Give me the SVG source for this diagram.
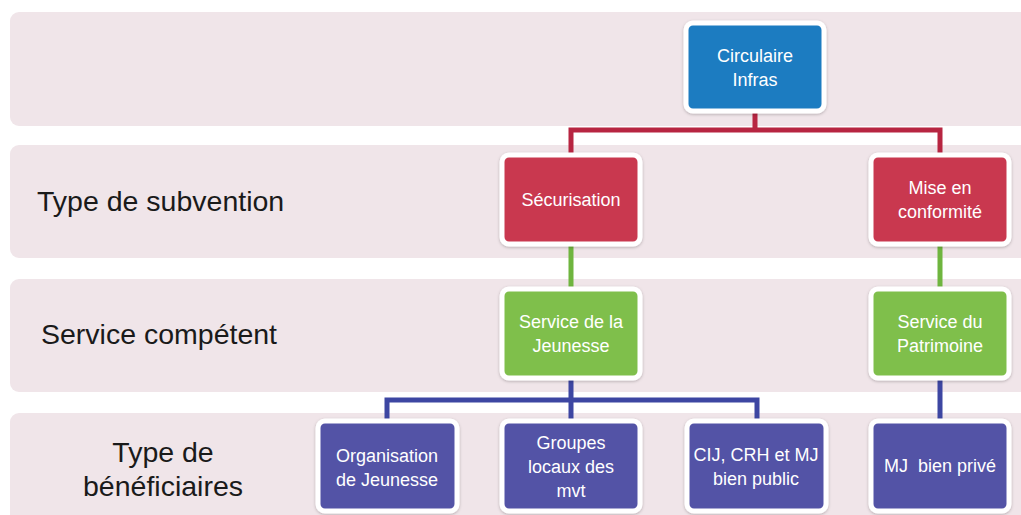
<svg xmlns="http://www.w3.org/2000/svg" width="1021" height="515" viewBox="0 0 1021 515">
<defs>
<filter id="sh" x="-20%" y="-20%" width="140%" height="140%">
<feDropShadow dx="0" dy="1" stdDeviation="1.5" flood-color="#000" flood-opacity="0.25"/>
</filter>
<style>
.band{fill:#f0e5e9;}
.node rect{stroke:#ffffff;stroke-width:5;filter:url(#sh);}
.blue rect{fill:#1b7bc1;}
.red rect{fill:#c9394f;}
.green rect{fill:#7fbf4b;}
.purple rect{fill:#5352a6;}
.nt{font-family:"Liberation Sans",Arial,sans-serif;font-size:18px;fill:#ffffff;text-anchor:middle;}
.lbl{font-family:"Liberation Sans",Arial,sans-serif;font-size:28.5px;fill:#1a1a1a;}
.c{fill:none;stroke-width:5;stroke-linejoin:miter;}
</style>
</defs>
<rect width="1021" height="515" fill="#ffffff"/>
<g id="bands">
<rect class="band" x="10" y="12" width="1030" height="114" rx="9"/>
<rect class="band" x="10" y="145" width="1030" height="113" rx="9"/>
<rect class="band" x="10" y="279" width="1030" height="113" rx="9"/>
<rect class="band" x="10" y="413" width="1030" height="120" rx="9"/>
</g>
<g id="labels">
<text class="lbl" x="37" y="211">Type de subvention</text>
<text class="lbl" x="41" y="344">Service compétent</text>
<text class="lbl" x="163" y="462" text-anchor="middle">Type de</text>
<text class="lbl" x="163" y="496" text-anchor="middle">bénéficiaires</text>
</g>
<g id="connectors">
<path class="c" stroke="#b72541" d="M755,110 V130 H571 V155 M755,130 H940 V155"/>
<path class="c" stroke="#6fb53f" d="M571,245 V290 M940,245 V290"/>
<path class="c" stroke="#3d46a2" d="M571,378 V400 H387 V422 M571,400 H757 V422 M571,400 V422 M940,378 V422"/>
</g>
<g id="n-circulaire" class="node blue">
<rect x="686" y="23" width="138" height="88" rx="7"/>
<text class="nt" x="755" y="62">Circulaire</text>
<text class="nt" x="755" y="86">Infras</text>
</g>
<g id="n-securisation" class="node red">
<rect x="502" y="155" width="138" height="89" rx="7"/>
<text class="nt" x="571" y="206">Sécurisation</text>
</g>
<g id="n-conformite" class="node red">
<rect x="871" y="155" width="138" height="89" rx="7"/>
<text class="nt" x="940" y="194">Mise en</text>
<text class="nt" x="940" y="218">conformité</text>
</g>
<g id="n-jeunesse" class="node green">
<rect x="502" y="289" width="138" height="89" rx="7"/>
<text class="nt" x="571" y="328">Service de la</text>
<text class="nt" x="571" y="352">Jeunesse</text>
</g>
<g id="n-patrimoine" class="node green">
<rect x="871" y="289" width="138" height="89" rx="7"/>
<text class="nt" x="940" y="328">Service du</text>
<text class="nt" x="940" y="352">Patrimoine</text>
</g>
<g id="n-organisation" class="node purple">
<rect x="318" y="421" width="139" height="90" rx="7"/>
<text class="nt" x="387" y="462">Organisation</text>
<text class="nt" x="387" y="486">de Jeunesse</text>
</g>
<g id="n-groupes" class="node purple">
<rect x="502" y="421" width="138" height="90" rx="7"/>
<text class="nt" x="571" y="449">Groupes</text>
<text class="nt" x="571" y="473">locaux des</text>
<text class="nt" x="571" y="497">mvt</text>
</g>
<g id="n-cij" class="node purple">
<rect x="687" y="421" width="139" height="90" rx="7"/>
<text class="nt" x="756" y="461">CIJ, CRH et MJ</text>
<text class="nt" x="756" y="485">bien public</text>
</g>
<g id="n-mj" class="node purple">
<rect x="871" y="421" width="138" height="90" rx="7"/>
<text class="nt" x="940" y="472" xml:space="preserve">MJ  bien privé</text>
</g>
</svg>
